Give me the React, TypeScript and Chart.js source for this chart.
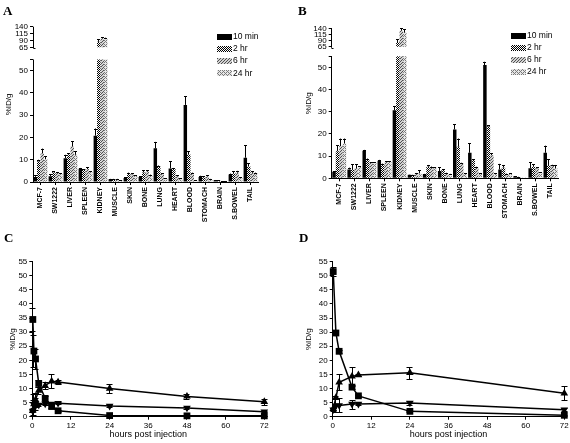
import React, { useEffect, useRef } from 'react';
import { Chart, registerables, LinearScale } from 'chart.js';

Chart.register(...registerables);

const FONT = "'Liberation Sans', Arial, Helvetica, sans-serif";
Chart.defaults.font.family = FONT;
Chart.defaults.color = '#000';

// ---------- data: bar panels (A, B) ----------
const CATEGORIES = ['MCF-7', 'SW1222', 'LIVER', 'SPLEEN', 'KIDNEY', 'MUSCLE', 'SKIN', 'BONE', 'LUNG', 'HEART', 'BLOOD', 'STOMACH', 'BRAIN', 'S.BOWEL', 'TAIL'];
const SERIES_LABELS = ['10 min', '2 hr', '6 hr', '24 hr'];
const BAR_Y_TICKS = [0, 10, 20, 30, 40, 50, 55, 65, 90, 115, 140];

const A_10MIN = [2.3, 2.6, 10.7, 6.0, 20.8, 1.2, 1.8, 2.2, 15.1, 6.1, 34.6, 2.2, 0.8, 3.4, 10.9];
const A_10MIN_ERR = [0.8, 1.0, 1.5, 0.3, 3.2, 0.2, 0.3, 0.3, 2.9, 3.2, 4.0, 0.6, 0.1, 0.4, 5.6];
const A_2HR = [9.3, 4.4, 12.2, 5.5, 85, 1.2, 3.6, 4.3, 7.0, 5.9, 12.3, 2.0, 0.6, 3.9, 7.0];
const A_2HR_ERR = [0.7, 0.5, 0.8, 0.3, 9, 0.2, 0.6, 1.0, 0.4, 0.4, 1.4, 0.6, 0.1, 0.9, 1.4];
const A_6HR = [12.8, 4.0, 16.0, 5.8, 97, 1.2, 3.4, 4.6, 3.7, 2.7, 3.8, 2.5, 0.3, 4.2, 4.1];
const A_6HR_ERR = [2.2, 0.5, 2.3, 0.8, 4, 0.2, 0.5, 0.6, 0.3, 0.4, 0.4, 0.5, 0.1, 0.8, 0.8];
const A_24HR = [10.2, 3.6, 12.2, 4.5, 95, 0.8, 2.8, 3.0, 1.6, 1.5, 0.8, 1.2, 0.2, 2.0, 3.8];
const A_24HR_ERR = [1.4, 0.3, 1.6, 0.3, 5, 0.1, 0.3, 0.3, 0.2, 0.2, 0.1, 0.2, 0.05, 0.2, 0.4];

const B_10MIN = [3.0, 4.0, 12.4, 7.9, 30.6, 1.6, 1.8, 3.3, 22.0, 11.5, 51.0, 4.0, 0.9, 4.5, 11.5];
const B_10MIN_ERR = [0.2, 0.8, 0.4, 0.4, 2.0, 0.1, 0.2, 1.6, 2.3, 4.2, 1.5, 2.5, 0.1, 2.7, 3.2];
const B_2HR = [12.2, 3.8, 8.5, 6.3, 84, 1.5, 5.2, 3.7, 14.2, 8.2, 23.4, 4.8, 0.6, 5.2, 6.0];
const B_2HR_ERR = [2.8, 2.5, 0.4, 0.3, 12, 0.1, 0.8, 0.4, 3.7, 0.4, 0.5, 1.2, 0.1, 1.1, 2.7];
const B_6HR = [14.5, 4.5, 7.0, 7.3, 130, 2.0, 4.9, 2.2, 6.7, 4.9, 10.4, 1.9, 0.3, 4.5, 5.5];
const B_6HR_ERR = [3.4, 1.8, 0.3, 0.4, 10, 0.4, 0.4, 0.3, 0.3, 0.3, 0.8, 0.2, 0.05, 0.4, 0.6];
const B_24HR = [15.7, 5.2, 7.0, 7.3, 122, 2.2, 4.8, 1.8, 2.0, 2.2, 2.2, 2.2, 0.3, 2.5, 4.5];
const B_24HR_ERR = [2.2, 0.3, 0.3, 0.4, 15, 1.5, 0.2, 0.2, 0.2, 0.2, 0.2, 0.2, 0.05, 0.2, 1.5];

// ---------- data: time-course panels (C, D) ----------
const X_TICK_STEP = 12;
const C_TIMES = [0.167, 0.5, 1, 2, 4, 6, 8, 24, 48, 72];
const C_BLOOD = [34.5, 23.3, 20.5, 11.8, 6.5, 3.6, 2.1, 0.4, 0.3, 0.3];
const C_BLOOD_ERR = [4.0, 5.7, 3.5, 1.2, 0.8, 0.5, 0.3, 0.1, 0.1, 0.1];
const C_MCF7 = [2.3, 4.5, 6.0, 9.3, 11.0, 12.6, 12.3, 10.0, 7.2, 5.3];
const C_MCF7_ERR = [0.5, 1.5, 2.5, 1.3, 1.2, 2.5, 0.6, 1.5, 0.8, 1.0];
const C_SW1222 = [2.0, 4.3, 4.5, 4.2, 4.6, 4.5, 4.8, 3.8, 3.1, 1.8];
const C_SW1222_ERR = [0.5, 3.8, 2.0, 0.5, 0.5, 0.4, 0.4, 0.3, 0.3, 0.2];

const D_TIMES = [0.167, 1, 2, 6, 8, 24, 72];
const D_BLOOD = [51.5, 29.7, 23.2, 10.5, 7.4, 1.9, 0.5];
const D_BLOOD_ERR = [1.5, 0.5, 0.5, 0.8, 0.3, 0.2, 0.1];
const D_MCF7 = [2.8, 6.8, 12.2, 14.3, 14.8, 15.6, 8.3];
const D_MCF7_ERR = [0.3, 0.6, 2.8, 3.4, 0.5, 2.2, 2.5];
const D_SW1222 = [2.5, 3.9, 4.0, 4.5, 4.5, 4.9, 2.5];
const D_SW1222_ERR = [0.5, 2.3, 2.5, 1.6, 0.3, 0.8, 0.5];

// ---------- helpers ----------
function makePattern(kind: string): any {
  if (kind === 'solid') return '#000';
  const c = document.createElement('canvas');
  const size = kind === 'checker' ? 2 : kind === 'hatch' ? 3 : 4;
  c.width = size;
  c.height = size;
  const g = c.getContext('2d')!;
  if (kind === 'checker') {
    g.fillStyle = '#fff';
    g.fillRect(0, 0, 2, 2);
    g.fillStyle = '#000';
    g.fillRect(0, 0, 1, 1);
    g.fillRect(1, 1, 1, 1);
  } else if (kind === 'hatch') {
    g.fillStyle = '#d2d2d2';
    g.fillRect(0, 0, 3, 3);
    g.fillStyle = '#505050';
    for (let i = 0; i < 3; i++) g.fillRect(i, 2 - i, 1, 1);
  } else {
    g.fillStyle = '#e6e6e6';
    g.fillRect(0, 0, 4, 4);
    g.fillStyle = '#7a7a7a';
    for (let i = 0; i < 4; i++) g.fillRect(i, i, 1, 1);
    g.fillRect(0, 2, 1, 1);
    g.fillRect(2, 0, 1, 1);
  }
  return g.createPattern(c, 'repeat');
}

function makeBrokenScale(id: string, lowFrac: number, highFrac: number) {
  class Broken extends LinearScale {
    static id = id;
    getPixelForValue(v: number) {
      const H = this.bottom - this.top;
      let f;
      if (v <= 55) f = (v / 55) * lowFrac;
      else if (v < 65) f = lowFrac + ((v - 55) / 10) * (highFrac - lowFrac);
      else f = highFrac + ((v - 65) / 75) * (1 - highFrac);
      return this.bottom - f * H;
    }
    getValueForPixel(p: number) {
      const H = this.bottom - this.top;
      const f = (this.bottom - p) / H;
      if (f <= lowFrac) return (f / lowFrac) * 55;
      if (f < highFrac) return 55 + ((f - lowFrac) / (highFrac - lowFrac)) * 10;
      return 65 + ((f - highFrac) / (1 - highFrac)) * 75;
    }
  }
  Chart.register(Broken as any);
  return id;
}

function alignPx(p: number) {
  return Math.round(p - 0.5) + 0.5;
}

type Area = { left: number; right: number; top: number; bottom: number };

function useChart(build: () => any) {
  const ref = useRef<HTMLCanvasElement>(null);
  useEffect(() => {
    const chart = new Chart(ref.current as HTMLCanvasElement, build());
    return () => chart.destroy();
  }, []);
  return ref;
}

// ---------- bar panel ----------
function BarPanel(props: {
  left: number; top: number; width: number; height: number; area: Area;
  scaleId: string; lowFrac: number; highFrac: number;
  series: number[][]; errs: number[][];
  legendX: number; legendY: number; legendDy: number; titlePad: number;
}) {
  const { left, top, width, height, area, series, errs } = props;
  const ref = useChart(() => {
    const scaleType = makeBrokenScale(props.scaleId, props.lowFrac, props.highFrac);
    const kinds = ['solid', 'checker', 'hatch', 'light'];
    const datasets = series.map((d, i) => ({
      label: SERIES_LABELS[i],
      data: d,
      errs: errs[i],
      backgroundColor: makePattern(kinds[i]),
      borderWidth: 0,
      categoryPercentage: 0.92,
      barPercentage: 1,
      clip: false,
    }));
    const brokenPlugin = {
      id: 'broken' + props.scaleId,
      beforeDatasetsDraw(chart: any) {
        const y = chart.scales.y;
        const ca = chart.chartArea;
        const ctx = chart.ctx;
        const p55 = y.getPixelForValue(55);
        const p65 = y.getPixelForValue(65);
        ctx.save();
        ctx.beginPath();
        ctx.rect(ca.left, p55, ca.right - ca.left, ca.bottom - p55 + 1);
        ctx.rect(ca.left, ca.top - 6, ca.right - ca.left, p65 - ca.top + 6);
        ctx.clip();
      },
      afterDatasetsDraw(chart: any) {
        const y = chart.scales.y;
        const ctx = chart.ctx;
        ctx.strokeStyle = '#000';
        ctx.lineWidth = 1;
        chart.data.datasets.forEach((ds: any, i: number) => {
          const meta = chart.getDatasetMeta(i);
          meta.data.forEach((el: any, j: number) => {
            const v = ds.data[j];
            const e = ds.errs[j];
            const yTop = y.getPixelForValue(v + e);
            const x = alignPx(el.x);
            const hw = Math.max(1.5, el.width * 0.4);
            ctx.beginPath();
            ctx.moveTo(x, el.y);
            ctx.lineTo(x, yTop);
            ctx.moveTo(x - hw, Math.round(yTop) + 0.5);
            ctx.lineTo(x + hw, Math.round(yTop) + 0.5);
            ctx.stroke();
          });
        });
        ctx.restore();
        // broken y axis line
        const ca = chart.chartArea;
        const ax = alignPx(ca.left);
        ctx.save();
        ctx.strokeStyle = '#000';
        ctx.lineWidth = 1;
        ctx.beginPath();
        ctx.moveTo(ax, ca.bottom);
        ctx.lineTo(ax, y.getPixelForValue(55));
        ctx.moveTo(ax, y.getPixelForValue(65) + 1);
        ctx.lineTo(ax, ca.top);
        ctx.moveTo(ax, Math.round(y.getPixelForValue(65)) + 1.5);
        ctx.lineTo(ax + 2, Math.round(y.getPixelForValue(65)) + 1.5);
        ctx.stroke();
        ctx.restore();
      },
    };
    const legendPlugin = {
      id: 'legend' + props.scaleId,
      afterDraw(chart: any) {
        const ctx = chart.ctx;
        ctx.save();
        ctx.font = `8.5px ${FONT}`;
        ctx.textBaseline = 'middle';
        ctx.fillStyle = '#000';
        chart.data.datasets.forEach((ds: any, i: number) => {
          const cy = props.legendY + i * props.legendDy;
          ctx.fillStyle = ds.backgroundColor;
          ctx.fillRect(props.legendX, Math.round(cy - 3), 15, 6);
          ctx.fillStyle = '#000';
          ctx.fillText(ds.label, props.legendX + 16, cy);
        });
        ctx.restore();
      },
    };
    return {
      type: 'bar',
      data: { labels: CATEGORIES, datasets },
      options: {
        responsive: false,
        animation: false,
        devicePixelRatio: 1,
        events: [],
        layout: { padding: { left: 0, top: area.top, right: width - area.right, bottom: 0 } },
        plugins: { legend: { display: false }, tooltip: { enabled: false } },
        scales: {
          x: {
            type: 'category',
            offset: true,
            grid: { display: true, drawOnChartArea: false, drawTicks: true, tickLength: 3, color: '#000', offset: false },
            border: { display: true, color: '#000', width: 1 },
            ticks: { autoSkip: false, minRotation: 90, maxRotation: 90, padding: 2, color: '#000', font: { size: 7, weight: 'bold' } },
            afterFit: (s: any) => { s.height = height - area.bottom; },
          },
          y: {
            type: scaleType,
            min: 0,
            max: 140,
            afterBuildTicks: (s: any) => { s.ticks = BAR_Y_TICKS.map((v) => ({ value: v })); },
            ticks: { autoSkip: false, padding: 2, color: '#000', font: { size: 8 }, callback: (v: any) => (v === 55 ? '' : String(v)) },
            grid: { display: true, drawOnChartArea: false, drawTicks: true, tickLength: 3, color: '#000' },
            border: { display: false },
            title: { display: true, text: '%ID/g', color: '#000', font: { size: 8 }, padding: { top: props.titlePad, bottom: 0 } },
            afterFit: (s: any) => { s.width = area.left; },
          },
        },
      },
      plugins: [brokenPlugin, legendPlugin],
    };
  });
  return <canvas ref={ref} width={width} height={height} style={{ position: 'absolute', left, top, width, height }} />;
}

// ---------- time-course panel ----------
function LinePanel(props: {
  left: number; top: number; width: number; height: number; area: Area;
  times: number[]; blood: number[]; bloodErr: number[]; mcf: number[]; mcfErr: number[]; sw: number[]; swErr: number[];
  titlePad: number; id: string;
}) {
  const { left, top, width, height, area, times } = props;
  const ref = useChart(() => {
    const mk = (vals: number[], errs: number[], style: string, rot: number, r: number, label: string) => ({
      label,
      data: times.map((t, i) => ({ x: t, y: vals[i] })),
      errs,
      borderColor: '#000',
      backgroundColor: '#000',
      borderWidth: 1.5,
      pointStyle: style,
      pointRotation: rot,
      pointRadius: r,
      pointBorderWidth: 0,
      pointBackgroundColor: '#000',
      tension: 0,
      fill: false,
      clip: false,
    });
    const datasets = [
      mk(props.mcf, props.mcfErr, 'triangle', 0, 4.4, 'MCF-7'),
      mk(props.sw, props.swErr, 'triangle', 180, 4.4, 'SW1222'),
      mk(props.blood, props.bloodErr, 'rect', 0, 4.8, 'BLOOD'),
    ];
    const errPlugin = {
      id: 'err' + props.id,
      beforeDatasetsDraw(chart: any) {
        const y = chart.scales.y;
        const ctx = chart.ctx;
        ctx.save();
        ctx.strokeStyle = '#000';
        ctx.lineWidth = 1;
        chart.data.datasets.forEach((ds: any, i: number) => {
          const meta = chart.getDatasetMeta(i);
          meta.data.forEach((pt: any, j: number) => {
            const v = ds.data[j].y;
            const e = ds.errs[j];
            const yT = Math.round(y.getPixelForValue(v + e)) + 0.5;
            const yB = Math.round(y.getPixelForValue(Math.max(0, v - e))) + 0.5;
            const x = alignPx(pt.x);
            ctx.beginPath();
            ctx.moveTo(x, yT);
            ctx.lineTo(x, yB);
            ctx.moveTo(x - 3, yT);
            ctx.lineTo(x + 3, yT);
            ctx.moveTo(x - 3, yB);
            ctx.lineTo(x + 3, yB);
            ctx.stroke();
          });
        });
        ctx.restore();
      },
    };
    return {
      type: 'line',
      data: { datasets },
      options: {
        responsive: false,
        animation: false,
        devicePixelRatio: 1,
        events: [],
        layout: { padding: { left: 0, top: area.top, right: width - area.right, bottom: 0 } },
        plugins: { legend: { display: false }, tooltip: { enabled: false } },
        scales: {
          x: {
            type: 'linear',
            min: 0,
            max: 72,
            ticks: { stepSize: X_TICK_STEP, autoSkip: false, padding: 1, color: '#000', font: { size: 8 }, maxRotation: 0 },
            grid: { display: true, drawOnChartArea: false, drawTicks: true, tickLength: 3, color: '#000' },
            border: { display: true, color: '#000', width: 1 },
            title: { display: true, text: 'hours post injection', color: '#000', font: { size: 9 }, padding: { top: 0, bottom: 2.6 } },
            afterFit: (s: any) => { s.height = height - area.bottom; },
          },
          y: {
            type: 'linear',
            min: 0,
            max: 55,
            ticks: { stepSize: 5, autoSkip: false, padding: 2, color: '#000', font: { size: 8 } },
            grid: { display: true, drawOnChartArea: false, drawTicks: true, tickLength: 3, color: '#000' },
            border: { display: true, color: '#000', width: 1 },
            title: { display: true, text: '%ID/g', color: '#000', font: { size: 8 }, padding: { top: props.titlePad, bottom: 0 } },
            afterFit: (s: any) => { s.width = area.left; },
          },
        },
      },
      plugins: [errPlugin],
    };
  });
  return <canvas ref={ref} width={width} height={height} style={{ position: 'absolute', left, top, width, height }} />;
}

const letterStyle = (left: number, top: number): React.CSSProperties => ({
  position: 'absolute',
  left,
  top,
  font: "bold 13px 'Liberation Serif', 'Times New Roman', serif",
  lineHeight: '13px',
  color: '#000',
});

export default function App() {
  return (
    <div style={{ position: 'absolute', left: 0, top: 0, width: 570, height: 443, background: '#fff', overflow: 'hidden' }}>
      <BarPanel
        left={0} top={0} width={285} height={250}
        area={{ left: 33, right: 258, top: 26.7, bottom: 182 }}
        scaleId="brokenA" lowFrac={0.789} highFrac={0.867}
        series={[A_10MIN, A_2HR, A_6HR, A_24HR]}
        errs={[A_10MIN_ERR, A_2HR_ERR, A_6HR_ERR, A_24HR_ERR]}
        legendX={217} legendY={36.7} legendDy={12.2} titlePad={4.2}
      />
      <BarPanel
        left={285} top={0} width={285} height={250}
        area={{ left: 46.7, right: 273, top: 28.3, bottom: 178.3 }}
        scaleId="brokenB" lowFrac={0.814} highFrac={0.877}
        series={[B_10MIN, B_2HR, B_6HR, B_24HR]}
        errs={[B_10MIN_ERR, B_2HR_ERR, B_6HR_ERR, B_24HR_ERR]}
        legendX={226} legendY={36} legendDy={11.9} titlePad={19.2}
      />
      <LinePanel
        id="C" left={0} top={250} width={285} height={193}
        area={{ left: 32.3, right: 264.3, top: 11.7, bottom: 166.7 }}
        times={C_TIMES} blood={C_BLOOD} bloodErr={C_BLOOD_ERR} mcf={C_MCF7} mcfErr={C_MCF7_ERR} sw={C_SW1222} swErr={C_SW1222_ERR}
        titlePad={7.7}
      />
      <LinePanel
        id="D" left={285} top={250} width={285} height={193}
        area={{ left: 47.7, right: 279.3, top: 11.7, bottom: 166.7 }}
        times={D_TIMES} blood={D_BLOOD} bloodErr={D_BLOOD_ERR} mcf={D_MCF7} mcfErr={D_MCF7_ERR} sw={D_SW1222} swErr={D_SW1222_ERR}
        titlePad={18.7}
      />
      <div style={letterStyle(3, 4)}>A</div>
      <div style={letterStyle(298, 4)}>B</div>
      <div style={letterStyle(4, 231)}>C</div>
      <div style={letterStyle(299, 231)}>D</div>
    </div>
  );
}
